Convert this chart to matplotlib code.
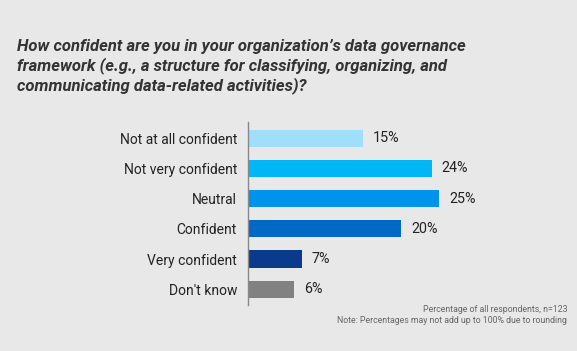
import numpy as np
import matplotlib.pyplot as plt

categories = ["Not at all confident", "Not very confident", "Neutral",
              "Confident", "Very confident", "Don't know"]
values = [15, 24, 25, 20, 7, 6]
colors = ["#9fdffa", "#00b6f5", "#0093ee", "#0068c5", "#0a3a8b", "#818181"]

plt.rcParams['font.family'] = ['Roboto', 'DejaVu Sans']
bg = "#e8e8e8"

fig = plt.figure(figsize=(5.77, 3.51), dpi=100, facecolor=bg)
ax = fig.add_axes([0.4298, 0.131, 0.398, 0.521], facecolor=bg)

y = np.arange(len(categories))
ax.barh(y, values, height=0.57, color=colors)
for yi, v in zip(y, values):
    ax.text(v + 1.3, yi, f"{v}%", va='center', ha='left', fontsize=10.3, color='#222222')

ax.set_xlim(0, 30)
ax.set_ylim(5.52, -0.53)
ax.set_yticks(y)
ax.set_yticklabels(categories, fontsize=10, color='#222222')
ax.tick_params(axis='y', length=0, pad=8)
ax.set_xticks([])
for s in ['top', 'right', 'bottom']:
    ax.spines[s].set_visible(False)
ax.spines['left'].set_color('#888888')
ax.spines['left'].set_linewidth(1.0)

fig.text(0.03, 0.89, "How confident are you in your organization\u2019s data governance\n"
         "framework (e.g., a structure for classifying, organizing, and\n"
         "communicating data-related activities)?",
         ha='left', va='top', fontsize=12, fontweight='bold', fontstyle='italic',
         color='#333333', linespacing=1.25)

fig.text(0.983, 0.075, "Percentage of all respondents, n=123\n"
         "Note: Percentages may not add up to 100% due to rounding",
         ha='right', va='bottom', fontsize=6.3, color='#666666', linespacing=1.3)

fig.savefig("out.png", dpi=100, facecolor=bg)
